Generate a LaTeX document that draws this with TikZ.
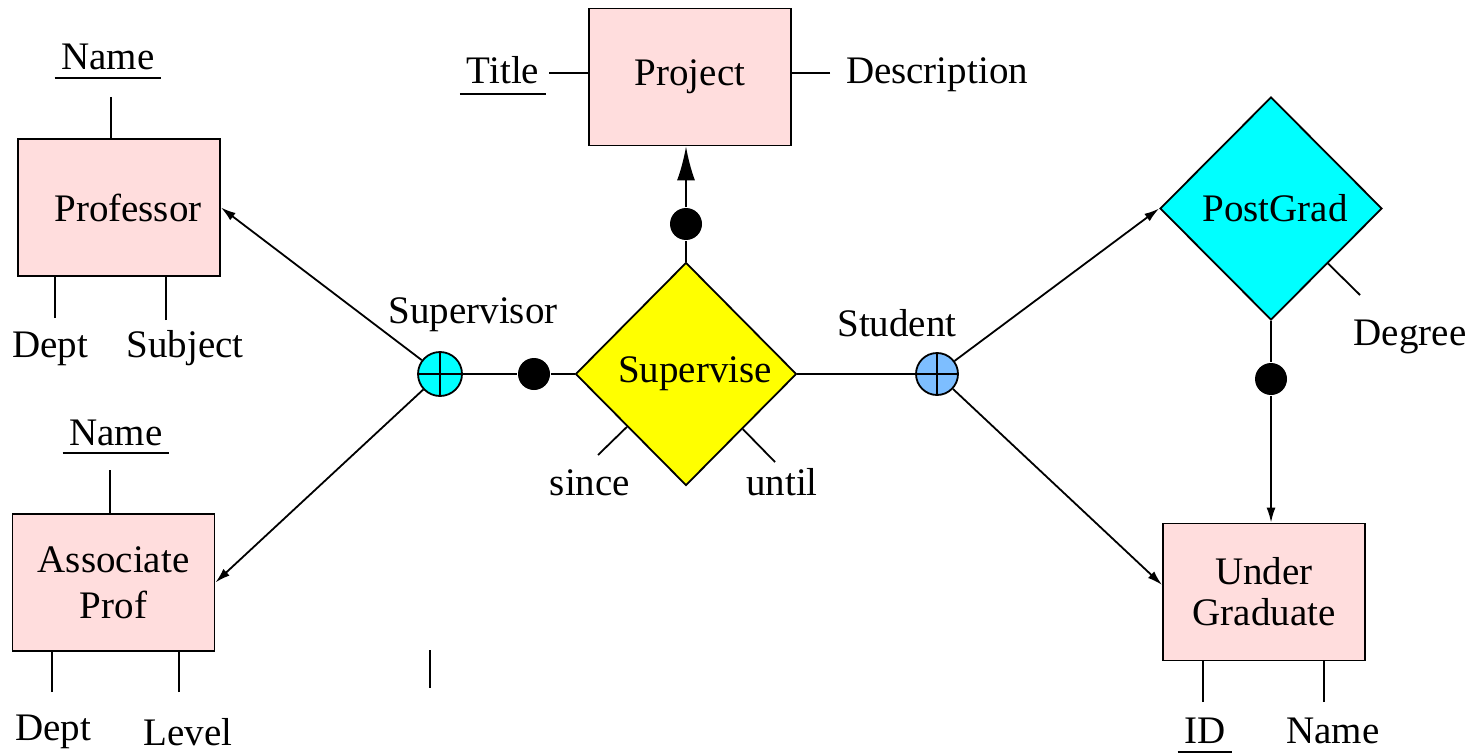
\documentclass[tikz,border=0pt]{standalone}
\usepackage{fontspec}
\setmainfont{Liberation Serif}
\usetikzlibrary{shapes.geometric,arrows.meta,calc}
\definecolor{entfill}{RGB}{255,221,221}
\definecolor{relyellow}{RGB}{255,255,0}
\definecolor{relcyan}{RGB}{0,255,255}
\definecolor{roleblue}{RGB}{125,190,255}
\begin{document}
\begin{tikzpicture}[x=0.5pt,y=-0.5pt,
  font=\fontsize{19.5}{23}\selectfont,
  line width=0.9pt,
  entity/.style={draw, fill=entfill, minimum width=101pt, minimum height=68.5pt,
                 align=center, inner sep=0pt},
  rel/.style={draw, shape=diamond, aspect=1, minimum width=110.5pt,
              minimum height=111.5pt, inner sep=0pt},
  role/.style={draw, circle, minimum size=22pt, inner sep=0pt},
  dot/.style={circle, fill=black, minimum size=16pt, inner sep=0pt},
  attr/.style={anchor=base, inner sep=0pt},
  keyattr/.style={anchor=base, inner xsep=3pt, inner ysep=0pt},
  arr/.style={-{Latex[length=7.5pt,width=4.5pt]}},
  bigarr/.style={-{Latex[length=17pt,width=9pt]}}]
\useasboundingbox (0,0) rectangle (1475,754);

% entities
\node[entity] (prof)  at (119,207.5) {\hspace*{9pt}\raisebox{-3pt}{Professor}};
\node[entity] (assoc) at (113.5,582.5) {Associate\\Prof};
\node[entity] (proj)  at (690,77) {\raisebox{-2pt}{Project}};
\node[entity, font=\fontsize{19.5}{20.5}\selectfont] (ug) at (1264,592) {Under\\Graduate};

% relationships
\node[rel, fill=relyellow] (supv) at (686,374) {\hspace*{9pt}Supervise};
\node[rel, fill=relcyan, minimum width=111pt] (pg) at (1271,208.5) {\hspace*{4pt}PostGrad};

% role circles
\node[role, fill=relcyan] (sup) at (440,374) {};
\node[role, fill=roleblue, minimum size=21pt] (stu) at (937,374) {};
\draw (sup.north) -- (sup.south) (sup.west) -- (sup.east);
\draw (stu.north) -- (stu.south) (stu.west) -- (stu.east);
\node[attr] (suplbl) at (473,323) {Supervisor};
\node[attr] (stulbl) at (897,336) {Student};

% participation dots
\node[dot] (d1) at (534,374) {};
\node[dot] (d2) at (686,224) {};
\node[dot] (d3) at (1271,379) {};

% connectors
\draw (sup) -- (d1);
\draw (d1) -- (supv.west);
\draw (supv.north) -- (d2);
\draw[bigarr] (d2) -- (d2 |- proj.south);
\draw (supv.east) -- (stu);
\draw[arr] (sup) -- (prof.east);
\draw[arr] (sup) -- (assoc.east);
\draw[arr] (stu) -- (pg.west);
\draw[arr] (stu) -- ([yshift=3.5pt]ug.west);
\draw (pg.south) -- (d3);
\draw[arr] (d3) -- (d3 |- ug.north);

% Professor attributes
\node[keyattr] (pname) at (108,70) {Name};
\draw ([yshift=-4pt]pname.base west) -- ([yshift=-4pt]pname.base east);
\coordinate (pnl) at (111,97);
\draw (pnl) -- (pnl |- prof.north);
\coordinate (pdl) at (55,318);
\draw (pdl) -- (pdl |- prof.south);
\node[attr] (pdept) at (50,357) {Dept};
\coordinate (psl) at (166,320);
\draw (psl) -- (psl |- prof.south);
\node[attr] (psubj) at (185,357) {Subject};

% Associate Prof attributes
\node[keyattr] (aname) at (116,445) {Name};
\draw ([yshift=-4pt]aname.base west) -- ([yshift=-4pt]aname.base east);
\coordinate (anl) at (110,470);
\draw (anl) -- (anl |- assoc.north);
\coordinate (adl) at (52,692);
\draw (adl) -- (adl |- assoc.south);
\node[attr] (adept) at (53,740) {Dept};
\coordinate (all) at (179,692);
\draw (all) -- (all |- assoc.south);
\node[attr] (alevel) at (188,745) {Level};

\coordinate (stroke1) at (430,650);
\coordinate (stroke2) at (430,688);
\draw (stroke1) -- (stroke2);

% Project attributes
\node[keyattr] (ptitle) at (503,84) {Title};
\draw ([yshift=-5pt]ptitle.base west) -- ([yshift=-5pt]ptitle.base east);
\coordinate (ptl) at (549,73);
\draw (ptl) -- (ptl -| proj.west);
\coordinate (pdsl) at (830,73);
\draw (pdsl) -- (pdsl -| proj.east);
\node[attr] (pdesc) at (937,84) {Description};

% Supervise attributes
\coordinate (sincel) at (598,455);
\draw ($(supv.west)!0.47!(supv.south)$) -- (sincel);
\node[attr] (since) at (590,495) {since};
\coordinate (untill) at (775,462);
\draw ($(supv.south)!0.51!(supv.east)$) -- (untill);
\node[attr] (until) at (782,495) {until};

% PostGrad attribute
\coordinate (degl) at (1360,295);
\draw ($(pg.south)!0.51!(pg.east)$) -- (degl);
\node[attr] (deg) at (1410,345) {Degree};

% Under Graduate attributes
\coordinate (idl) at (1203,702);
\draw (idl) -- (idl |- ug.south);
\node[keyattr] (uid) at (1205,743) {ID};
\draw ([yshift=-4.5pt]uid.base west) -- ([yshift=-4.5pt]uid.base east);
\coordinate (unl) at (1324,702);
\draw (unl) -- (unl |- ug.south);
\node[attr] (uname) at (1333,743) {Name};
\end{tikzpicture}
\end{document}
